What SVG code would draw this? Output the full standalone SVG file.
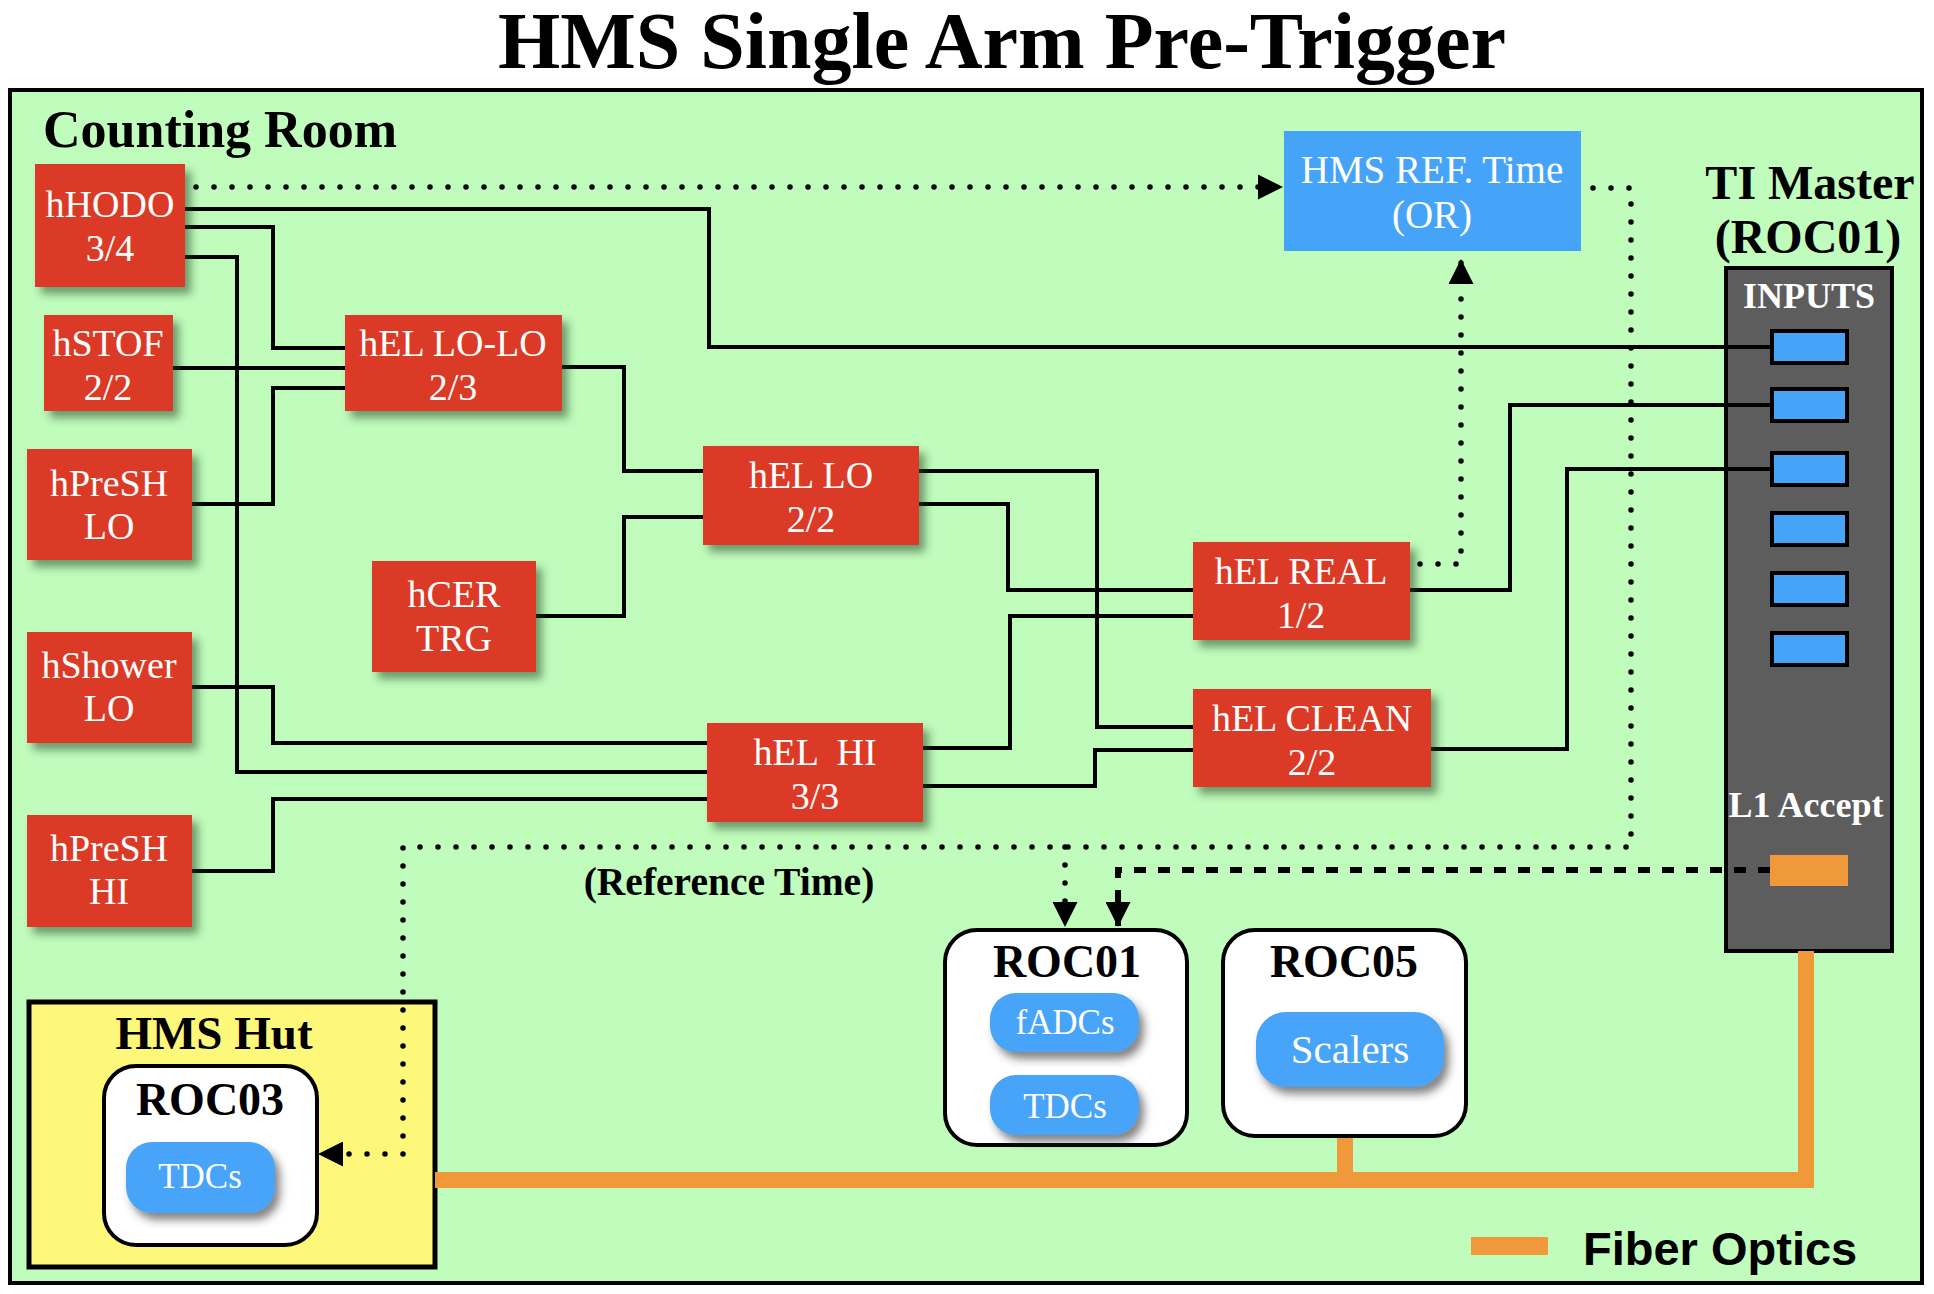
<svg xmlns="http://www.w3.org/2000/svg" width="1934" height="1294" viewBox="0 0 1934 1294">
<defs>
<style>
.red{fill:#db3b27;filter:url(#sh)}
.wt{font-family:"Liberation Serif",serif;font-size:38px;fill:#fff;text-anchor:middle}
.bk{font-family:"Liberation Serif",serif;font-weight:bold;fill:#000;text-anchor:middle}
.wb{font-family:"Liberation Serif",serif;font-weight:bold;fill:#fff;text-anchor:middle}
.ln{fill:none;stroke:#000;stroke-width:4}
.dot{fill:none;stroke:#000;stroke-width:5.5;stroke-dasharray:0 18;stroke-linecap:round}
.dash{fill:none;stroke:#000;stroke-width:6;stroke-dasharray:12 12}
.fib{fill:none;stroke:#f0993a;stroke-width:16}
.roc{fill:#fff;stroke:#000;stroke-width:4}
.pill{fill:#46a4f8;filter:url(#sh2)}
.slot{fill:#46a4f8;stroke:#000;stroke-width:4}
</style>
<filter id="sh" x="-20%" y="-20%" width="150%" height="150%"><feDropShadow dx="6" dy="7" stdDeviation="4" flood-color="#2a4a2a" flood-opacity="0.55"/></filter>
<filter id="sh2" x="-20%" y="-20%" width="150%" height="160%"><feDropShadow dx="5" dy="7" stdDeviation="4" flood-color="#333" flood-opacity="0.6"/></filter>
<marker id="arr" viewBox="0 0 10 10" refX="10" refY="5" markerWidth="25" markerHeight="25" markerUnits="userSpaceOnUse" orient="auto"><path d="M0,0 L10,5 L0,10 z" fill="#000"/></marker>
</defs>
<rect width="1934" height="1294" fill="#fff"/>
<text class="bk" x="1002" y="68" font-size="80">HMS Single Arm Pre-Trigger</text>
<g id="counting-room">
<rect x="10" y="90" width="1912" height="1193" fill="#c0fcbc" stroke="#000" stroke-width="4"/>
<text class="bk" x="43" y="147" font-size="52" style="text-anchor:start">Counting Room</text>
</g>
<g id="hms-hut"><rect x="29" y="1002" width="406" height="265" fill="#fef87a" stroke="#000" stroke-width="5"/><text class="bk" x="214" y="1049" font-size="47">HMS Hut</text>
<rect class="roc" x="104" y="1066" width="213" height="179" rx="32"/><text class="bk" x="210" y="1115" font-size="46">ROC03</text>
<rect class="pill" x="126" y="1142" width="149" height="71" rx="26"/><text class="wt" x="200" y="1188" style="font-size:35px">TDCs</text></g>
<g id="ti-master">
<text class="bk" x="1810" y="199" font-size="48">TI Master</text>
<text class="bk" x="1808" y="253" font-size="48">(ROC01)</text>
<rect x="1726" y="268" width="166" height="683" fill="#5d5d5d" stroke="#000" stroke-width="4"/>
<text class="wb" x="1809" y="308" font-size="36">INPUTS</text>
<rect class="slot" x="1772" y="331" width="75" height="32"/>
<rect class="slot" x="1772" y="389" width="75" height="32"/>
<rect class="slot" x="1772" y="453" width="75" height="32"/>
<rect class="slot" x="1772" y="513" width="75" height="32"/>
<rect class="slot" x="1772" y="573" width="75" height="32"/>
<rect class="slot" x="1772" y="633" width="75" height="32"/>
<text class="wb" x="1806" y="817" font-size="36">L1 Accept</text>
<rect x="1770" y="855" width="78" height="31" fill="#f0993a"/>
</g>
<g id="connectors">
<path class="ln" d="M185,209 H709 V347 H1772"/>
<path class="ln" d="M185,227 H273 V348 H345"/>
<path class="ln" d="M185,257 H237 V772 H707"/>
<path class="ln" d="M173,368 H345"/>
<path class="ln" d="M192,504 H273 V388 H345"/>
<path class="ln" d="M562,367 H624 V471 H703"/>
<path class="ln" d="M536,616 H624 V517 H703"/>
<path class="ln" d="M192,687 H273 V743 H707"/>
<path class="ln" d="M192,871 H273 V799 H707"/>
<path class="ln" d="M919,471 H1097 V727 H1193"/>
<path class="ln" d="M919,504 H1008 V590 H1193"/>
<path class="ln" d="M923,748 H1010 V616 H1193"/>
<path class="ln" d="M923,786 H1095 V750 H1193"/>
<path class="ln" d="M1410,590 H1510 V405 H1772"/>
<path class="ln" d="M1431,749 H1567 V469 H1772"/>
<path class="dot" d="M196,187 H1283" marker-end="url(#arr)"/>
<path class="dot" d="M1420,564 H1461 V259" marker-end="url(#arr)"/>
<path class="dot" d="M1593,188 H1631 V847 H403 V1154 H318" marker-end="url(#arr)"/>
<path class="dot" d="M1065,847 V927" marker-end="url(#arr)"/>
<path class="dash" d="M1770,870 H1118 V927" marker-end="url(#arr)"/>
<path class="fib" d="M435,1180 H1806 V951"/>
<path class="fib" d="M1345,1136 V1173"/>
</g>
<g id="hHODO"><rect class="red" x="35" y="164" width="150" height="123"/><text class="wt" x="110" y="217">hHODO</text><text class="wt" x="110" y="261">3/4</text></g>
<g id="hSTOF"><rect class="red" x="44" y="315" width="129" height="96"/><text class="wt" x="108" y="356">hSTOF</text><text class="wt" x="108" y="400">2/2</text></g>
<g id="hPreSH-LO"><rect class="red" x="27" y="449" width="165" height="111"/><text class="wt" x="109" y="496">hPreSH</text><text class="wt" x="109" y="539">LO</text></g>
<g id="hShower-LO"><rect class="red" x="27" y="632" width="165" height="111"/><text class="wt" x="109" y="678">hShower</text><text class="wt" x="109" y="721">LO</text></g>
<g id="hPreSH-HI"><rect class="red" x="27" y="815" width="165" height="112"/><text class="wt" x="109" y="861">hPreSH</text><text class="wt" x="109" y="904">HI</text></g>
<g id="hEL-LO-LO"><rect class="red" x="345" y="315" width="217" height="96"/><text class="wt" x="453" y="356">hEL LO-LO</text><text class="wt" x="453" y="400">2/3</text></g>
<g id="hCER-TRG"><rect class="red" x="372" y="561" width="164" height="111"/><text class="wt" x="454" y="607">hCER</text><text class="wt" x="454" y="651">TRG</text></g>
<g id="hEL-LO"><rect class="red" x="703" y="446" width="216" height="99"/><text class="wt" x="811" y="488">hEL LO</text><text class="wt" x="811" y="532">2/2</text></g>
<g id="hEL-HI"><rect class="red" x="707" y="723" width="216" height="99"/><text class="wt" x="815" y="765" xml:space="preserve">hEL  HI</text><text class="wt" x="815" y="809">3/3</text></g>
<g id="hEL-REAL"><rect class="red" x="1193" y="542" width="217" height="98"/><text class="wt" x="1301" y="584">hEL REAL</text><text class="wt" x="1301" y="628">1/2</text></g>
<g id="hEL-CLEAN"><rect class="red" x="1193" y="689" width="238" height="98"/><text class="wt" x="1312" y="731">hEL CLEAN</text><text class="wt" x="1312" y="775">2/2</text></g>
<g id="hms-ref-time"><rect x="1284" y="131" width="297" height="120" fill="#46a4f8"/><text class="wt" x="1432" y="183" style="font-size:39px">HMS REF. Time</text><text class="wt" x="1432" y="228" style="font-size:39px">(OR)</text></g>
<text id="ref-time-label" class="bk" x="729" y="895" font-size="39.5">(Reference Time)</text>
<g id="roc01"><rect class="roc" x="945" y="930" width="242" height="215" rx="32"/><text class="bk" x="1067" y="977" font-size="46">ROC01</text>
<rect class="pill" x="990" y="993" width="149" height="59" rx="26"/><text class="wt" x="1065" y="1034" style="font-size:35px">fADCs</text>
<rect class="pill" x="990" y="1075" width="149" height="60" rx="26"/><text class="wt" x="1065" y="1118" style="font-size:35px">TDCs</text></g>
<g id="roc05"><rect class="roc" x="1223" y="930" width="243" height="206" rx="32"/><text class="bk" x="1344" y="977" font-size="46">ROC05</text>
<rect class="pill" x="1256" y="1012" width="188" height="75" rx="30"/><text class="wt" x="1350" y="1063" style="font-size:41px">Scalers</text></g>
<g id="legend"><rect x="1471" y="1237" width="77" height="18" fill="#f0993a"/><text x="1583" y="1265" font-family="'Liberation Sans',sans-serif" font-weight="bold" font-size="47">Fiber Optics</text></g>
</svg>
